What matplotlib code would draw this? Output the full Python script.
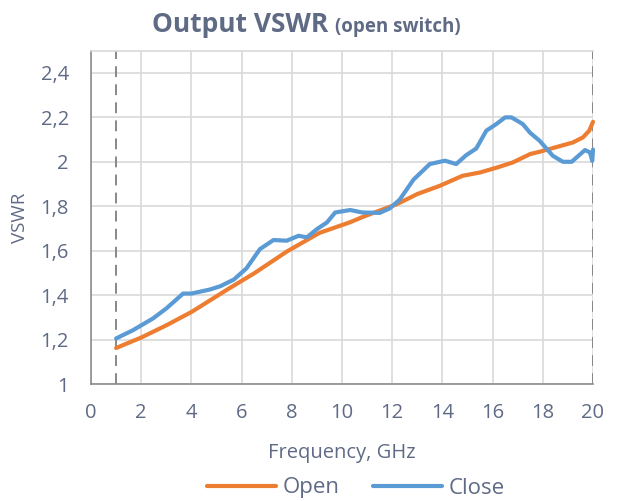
import matplotlib
matplotlib.use("Agg")
import matplotlib.pyplot as plt
from matplotlib.ticker import FixedLocator, FuncFormatter

# ---- data ----
open_freq = [1.0, 2.0, 3.0, 4.0, 5.5, 6.5, 7.8, 9.1, 10.3, 10.85, 12.2, 13.0,
             13.9, 14.8, 15.5, 16.2, 16.8, 17.5, 17.9, 18.5, 19.2, 19.6, 19.85, 20.0]
open_vswr = [1.162, 1.209, 1.264, 1.324, 1.43, 1.498, 1.596, 1.68, 1.727, 1.753, 1.81, 1.855,
             1.892, 1.937, 1.952, 1.975, 1.997, 2.035, 2.046, 2.065, 2.087, 2.11, 2.14, 2.18]

close_freq = [1.0, 1.67, 2.47, 3.0, 3.67, 4.0, 4.73, 5.15, 5.69, 6.19, 6.73, 7.27, 7.8,
              8.27, 8.6, 9.0, 9.4, 9.73, 10.33, 10.8, 11.5, 11.9, 12.3, 12.85, 13.5,
              14.1, 14.55, 14.95, 15.35, 15.75, 16.15, 16.5, 16.75, 17.2, 17.5, 17.87,
              18.4, 18.8, 19.15, 19.68, 19.88, 19.97, 20.0]
close_vswr = [1.205, 1.242, 1.295, 1.34, 1.407, 1.407, 1.425, 1.44, 1.47, 1.52, 1.607, 1.648, 1.645,
              1.667, 1.66, 1.697, 1.727, 1.772, 1.783, 1.772, 1.77, 1.79, 1.83, 1.92, 1.99,
              2.005, 1.99, 2.03, 2.06, 2.14, 2.17, 2.20, 2.20, 2.17, 2.13, 2.095,
              2.027, 2.0, 2.0, 2.053, 2.042, 2.004, 2.055]

series_names = ["Open", "Close"]
x_ticks = [0, 2, 4, 6, 8, 10, 12, 14, 16, 18, 20]
y_ticks = [1.0, 1.2, 1.4, 1.6, 1.8, 2.0, 2.2, 2.4]
band_edges = [1, 20]

ORANGE = "#ED7D31"
BLUE = "#5B9BD5"
TXT = "#5F6A85"
GRID = "#D9D9D9"

plt.rcParams["font.family"] = ["Open Sans", "DejaVu Sans"]

W, H = 622, 501
fig = plt.figure(figsize=(W / 100, H / 100), dpi=100)
left, right, top, bottom = 91, 593, 50.7, 384
ax = fig.add_axes([left / W, 1 - bottom / H, (right - left) / W, (bottom - top) / H])

ax.set_xlim(0, 20)
ax.set_ylim(1, 2.5)
ax.xaxis.set_major_locator(FixedLocator(x_ticks))
ax.yaxis.set_major_locator(FixedLocator(y_ticks))
ax.yaxis.set_major_formatter(FuncFormatter(lambda v, p: ("%g" % round(v, 1)).replace(".", ",")))
ax.grid(True, color=GRID, linewidth=1.2, zorder=0)
ax.set_axisbelow(True)

for s in ("left", "bottom"):
    ax.spines[s].set_color("#8C8C8C")
    ax.spines[s].set_linewidth(1.2)
ax.spines["top"].set_color(GRID)
ax.spines["top"].set_linewidth(1.2)
ax.spines["right"].set_visible(False)

ax.tick_params(axis="both", length=0, labelsize=14.5, labelcolor=TXT)
ax.tick_params(axis="x", pad=14)
ax.tick_params(axis="y", pad=16)

for xe in band_edges:
    ax.axvline(xe, color="#7F7F7F", linewidth=1.3, linestyle=(0, (6, 4)), zorder=1)

ax.plot(open_freq, open_vswr, color=ORANGE, linewidth=3, label=series_names[0],
        solid_capstyle="round", solid_joinstyle="round", zorder=3, clip_on=False)
ax.plot(close_freq, close_vswr, color=BLUE, linewidth=3, label=series_names[1],
        solid_capstyle="round", solid_joinstyle="round", zorder=3, clip_on=False)

ax.set_xlabel("Frequency, GHz", fontsize=14.5, color=TXT, va="baseline")
ax.xaxis.set_label_coords(342 / W, 1 - 458 / H, transform=fig.transFigure)
ax.set_ylabel("VSWR", fontsize=13.5, color=TXT, va="center", ha="center")
ax.yaxis.set_label_coords(20 / W, 1 - 218 / H, transform=fig.transFigure)

leg = ax.legend(loc="center", bbox_to_anchor=(356 / W, 1 - 488 / H),
                bbox_transform=fig.transFigure, ncol=2, frameon=False,
                fontsize=16, handlelength=3.1, handletextpad=0.3,
                columnspacing=1.5, borderpad=0)
for t in leg.get_texts():
    t.set_color(TXT)

# title in two parts
t1 = fig.text(152 / W, 1 - 32 / H, "Output VSWR ", fontsize=19, fontweight="bold",
              color=TXT, ha="left", va="baseline")
fig.canvas.draw()
bb = t1.get_window_extent(renderer=fig.canvas.get_renderer())
fig.text(bb.x1 / W, 1 - 32 / H, "(open switch)", fontsize=13.5, fontweight="bold",
         color=TXT, ha="left", va="baseline")

fig.savefig("out.png", dpi=100)
